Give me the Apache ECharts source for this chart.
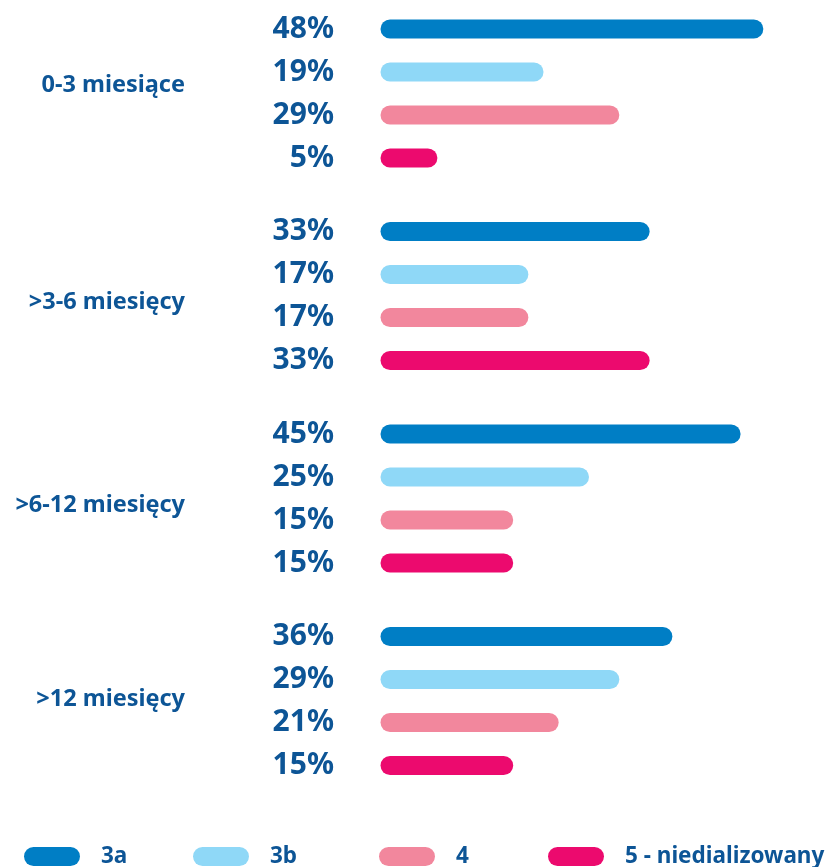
<!DOCTYPE html>
<html>
<head>
<meta charset="utf-8">
<script src="https://cdn.jsdelivr.net/npm/echarts@6/dist/echarts.min.js"></script>
<style>html,body{margin:0;padding:0;background:#fff;}#c{width:831px;height:867px;}</style>
</head>
<body>
<div id="c"></div>
<script>
var categories = ['0-3 miesiące', '>3-6 miesięcy', '>6-12 miesięcy', '>12 miesięcy'];
var seriesNames = ['3a', '3b', '4', '5 - niedializowany'];
var values3a = [48, 33, 45, 36];
var values3b = [19, 17, 25, 29];
var values4 = [29, 17, 15, 21];
var values5 = [5, 33, 15, 15];
var colors = ['#007ec5', '#8fd8f7', '#f2879d', '#ec0a6e'];
var TEXT = '#0d5596';
var FONT = '"Noto Sans", "DejaVu Sans", sans-serif';
var ROW = 43;
var ICON = 'path://M9.5,0 L46.5,0 A9.5,9.5 0 0 1 46.5,19 L9.5,19 A9.5,9.5 0 0 1 9.5,0 Z';
// vertical nudges of group labels (px, layout only)
var labelShift = [-8, 6, 7, -2];

function makeRender(idx) {
  return function (params, api) {
    var v = api.value(0);
    var c = api.value(1);
    var p0 = api.coord([0, c]);
    var p1 = api.coord([v, c]);
    var y = p0[1] + (idx - 1.5) * ROW;
    return {
      type: 'group',
      children: [
        { type: 'line', shape: { x1: p0[0], y1: y, x2: p1[0], y2: y },
          style: { stroke: api.visual('color'), lineWidth: 19, lineCap: 'round' } },
        { type: 'text', style: { text: v + '%', x: p0[0] - 56, y: y, align: 'right', verticalAlign: 'middle',
          fill: TEXT, fontSize: 30, fontWeight: 'bold', fontFamily: FONT } }
      ]
    };
  };
}

var allValues = [values3a, values3b, values4, values5];
var series = allValues.map(function (arr, idx) {
  return {
    name: seriesNames[idx],
    type: 'custom',
    renderItem: makeRender(idx),
    itemStyle: { color: colors[idx] },
    encode: { x: 0, y: 1 },
    clip: false,
    data: arr.map(function (v, i) { return [v, categories[i]]; })
  };
});

var legendLefts = [24, 193, 379, 548];
var legends = seriesNames.map(function (n, i) {
  return {
    data: [{ name: n, icon: ICON }],
    left: legendLefts[i], top: 844.5, padding: 0,
    itemWidth: 56, itemHeight: 19,
    textStyle: { color: TEXT, fontSize: 22.5, fontWeight: 'bold', fontFamily: FONT, lineHeight: 24, padding: [0, 0, 0, 16] },
    selectedMode: false
  };
});

var rich = {};
labelShift.forEach(function (s, i) {
  rich['s' + i] = {
    color: TEXT, fontSize: 23.5, fontWeight: 'bold', fontFamily: FONT, align: 'right',
    padding: s < 0 ? [0, 0, -2 * s, 0] : [2 * s, 0, 0, 0]
  };
});

var chart = echarts.init(document.getElementById('c'));
chart.setOption({
  animation: false,
  grid: { left: 390, right: 62, top: 93.5, height: 607.5, containLabel: false },
  xAxis: { type: 'value', min: 0, max: 50, show: false },
  yAxis: {
    type: 'category', data: categories, inverse: true, boundaryGap: false,
    axisLine: { show: false }, axisTick: { show: false }, splitLine: { show: false },
    axisLabel: {
      margin: 205, color: TEXT, fontSize: 23.5, fontWeight: 'bold', fontFamily: FONT, align: 'right',
      formatter: function (v, i) { return '{s' + i + '|' + v + '}'; },
      rich: rich
    }
  },
  legend: legends,
  series: series
});
</script>
</body>
</html>
